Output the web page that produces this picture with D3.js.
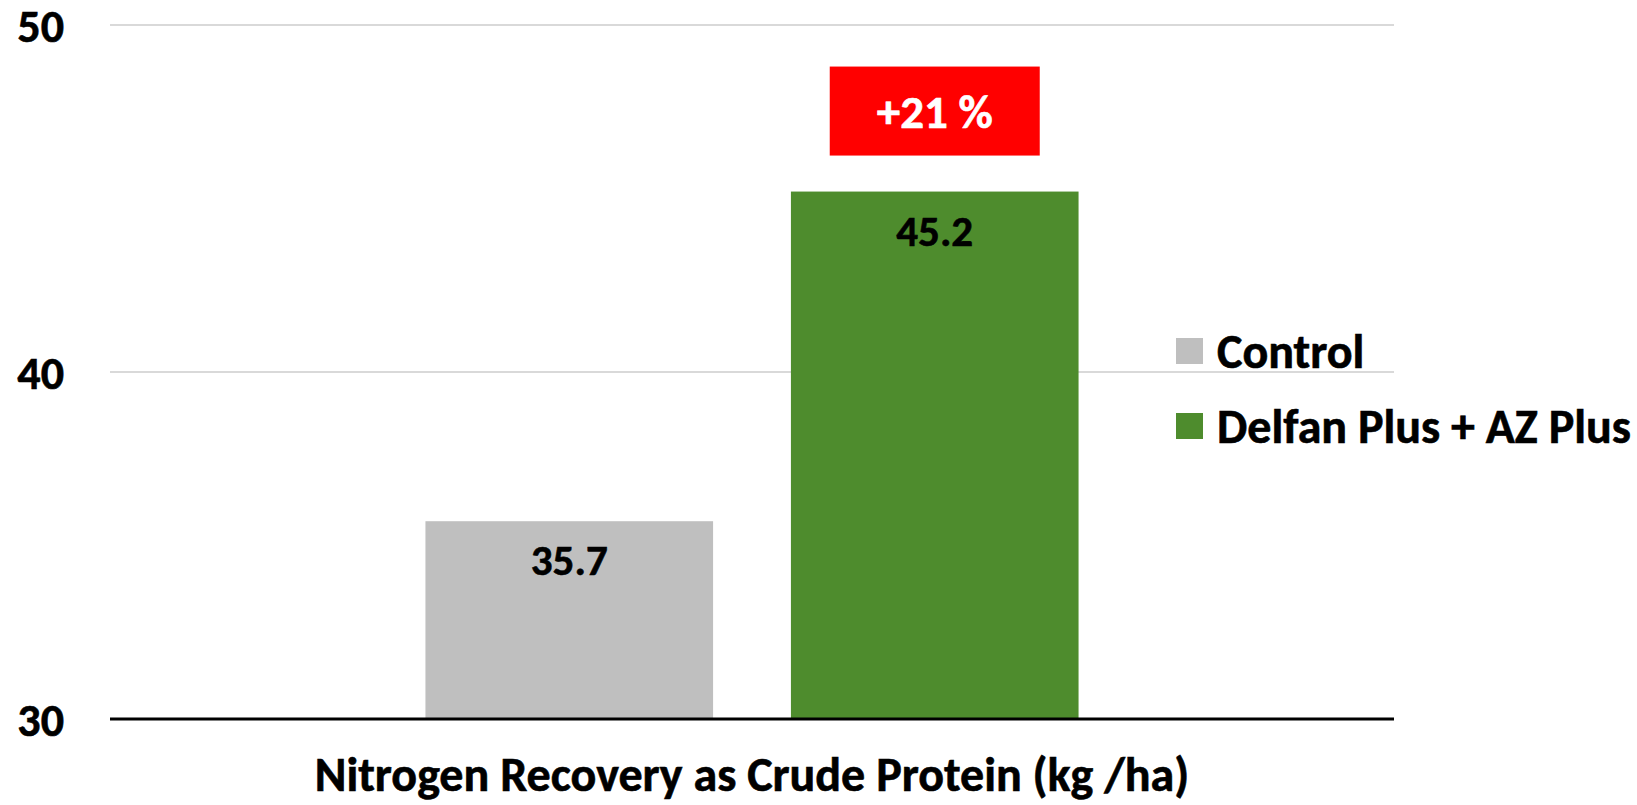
<!DOCTYPE html>
<html>
<head>
<meta charset="utf-8">
<script src="https://cdn.jsdelivr.net/npm/d3@7"></script>
<style>
  body { margin: 0; background: #fff; }
  text { font-family: Carlito, Lato, "Open Sans", sans-serif; font-weight: bold; stroke-width: 0.6px; }
</style>
</head>
<body>
<div id="chart"></div>
<script>
// data
const categories = ["Nitrogen Recovery as Crude Protein (kg /ha)"];
const seriesNames = ["Control", "Delfan Plus + AZ Plus"];
const seriesValues = [35.7, 45.2];
const seriesColors = ["#bfbfbf", "#4e8c2d"];
const yTicks = [30, 40, 50];
const increaseLabel = "+21 %";

let svgWidth = 1637;
let svgHeight = 805;

// plot area
let margin = { top: 25, right: 243, bottom: 86, left: 110 };
let width = svgWidth - margin.left - margin.right;
let height = svgHeight - margin.top - margin.bottom;

let svg = d3.select("#chart")
  .append("svg")
  .attr("width", svgWidth)
  .attr("height", svgHeight);

let chartGroup = svg.append("g")
  .attr("transform", `translate(${margin.left}, ${margin.top})`);

// scales
let yScale = d3.scaleLinear()
  .domain([30, 50])
  .range([height, 0]);

let x0 = d3.scaleBand()
  .domain(categories)
  .range([0, width])
  .paddingInner(0)
  .paddingOuter(0.483);

let x1 = d3.scaleBand()
  .domain(seriesNames)
  .range([0, x0.bandwidth()])
  .paddingInner(0.213);

// gridlines
chartGroup.append("g")
  .selectAll("line")
  .data(yTicks.slice(1))
  .enter()
  .append("line")
  .attr("x1", 0)
  .attr("x2", width)
  .attr("y1", d => yScale(d))
  .attr("y2", d => yScale(d))
  .attr("stroke", "#d9d9d9")
  .attr("stroke-width", 2);

// y axis labels only, no line
let leftAxis = d3.axisLeft(yScale)
  .tickValues(yTicks)
  .tickSize(0)
  .tickPadding(46);

let yAxis = chartGroup.append("g")
  .call(leftAxis);
yAxis.select(".domain").remove();
yAxis.attr("font-family", null);
yAxis.selectAll("text")
  .attr("font-size", "46px")
  .attr("fill", "#000")
  .attr("stroke", "#000")
  .attr("dy", "0.36em");

// bars
let barData = seriesNames.map((s, i) => ({ name: s, value: seriesValues[i], color: seriesColors[i] }));

let barGroup = chartGroup.append("g")
  .attr("transform", `translate(${x0(categories[0])}, 0)`);

barGroup.selectAll("rect")
  .data(barData)
  .enter()
  .append("rect")
  .attr("x", d => x1(d.name))
  .attr("y", d => yScale(d.value))
  .attr("width", x1.bandwidth())
  .attr("height", d => height - yScale(d.value))
  .attr("fill", d => d.color);

// value labels inside bars
barGroup.selectAll(".bar-label")
  .data(barData)
  .enter()
  .append("text")
  .classed("bar-label", true)
  .attr("x", d => x1(d.name) + x1.bandwidth() / 2)
  .attr("y", d => yScale(d.value) + 54)
  .attr("text-anchor", "middle")
  .attr("font-size", "43px")
  .attr("fill", "#000")
  .attr("stroke", "#000")
  .text(d => d.value.toFixed(1));

// red increase box above the second bar
let last = barData[barData.length - 1];
let boxCx = x1(last.name) + x1.bandwidth() / 2;
let boxW = 210;
let boxH = 89;
let boxTop = yScale(last.value) - 125;

barGroup.append("rect")
  .attr("x", boxCx - boxW / 2)
  .attr("y", boxTop)
  .attr("width", boxW)
  .attr("height", boxH)
  .attr("fill", "#ff0000");

barGroup.append("text")
  .attr("x", boxCx)
  .attr("y", boxTop + boxH / 2)
  .attr("dy", "0.36em")
  .attr("text-anchor", "middle")
  .attr("font-size", "47px")
  .attr("fill", "#fff")
  .attr("stroke", "#fff")
  .text(increaseLabel);

// x axis baseline
chartGroup.append("line")
  .attr("x1", 0)
  .attr("x2", width)
  .attr("y1", height)
  .attr("y2", height)
  .attr("stroke", "#000")
  .attr("stroke-width", 3);

// category title under the axis
chartGroup.append("text")
  .attr("x", x0(categories[0]) + x0.bandwidth() / 2)
  .attr("y", height + 72)
  .attr("text-anchor", "middle")
  .attr("font-size", "48px")
  .attr("fill", "#000")
  .attr("stroke", "#000")
  .text(categories[0]);

// legend
let legend = svg.append("g")
  .attr("transform", "translate(1176, 338)");

let legendItems = legend.selectAll("g")
  .data(barData)
  .enter()
  .append("g")
  .attr("transform", (d, i) => `translate(0, ${i * 75})`);

legendItems.append("rect")
  .attr("width", 27)
  .attr("height", 26)
  .attr("fill", d => d.color);

legendItems.append("text")
  .attr("x", 41)
  .attr("y", 13)
  .attr("dy", "0.36em")
  .attr("font-size", "48px")
  .attr("fill", "#000")
  .attr("stroke", "#000")
  .text(d => d.name);
</script>
</body>
</html>
